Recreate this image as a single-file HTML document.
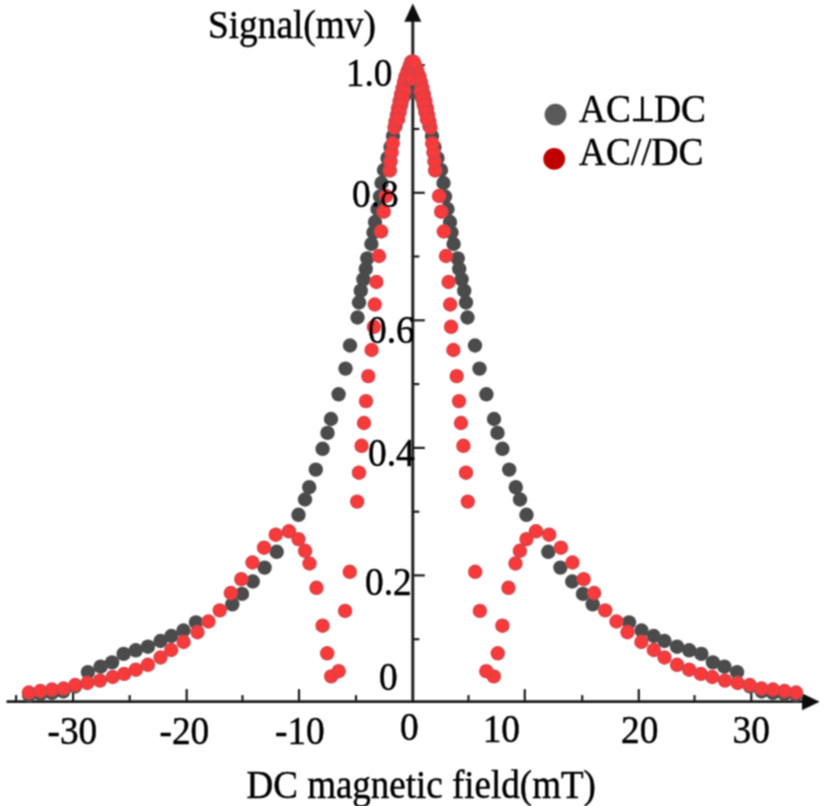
<!DOCTYPE html>
<html><head><meta charset="utf-8"><style>
html,body{margin:0;padding:0;background:#fff;}
body{width:825px;height:806px;overflow:hidden;}
svg{display:block;}
</style></head><body>
<svg width="825" height="806" viewBox="0 0 825 806">
<defs><filter id="sb" x="-2%" y="-2%" width="104%" height="104%"><feConvolveMatrix order="3" kernelMatrix="1 2 1 2 4 2 1 2 1" divisor="16" edgeMode="duplicate"/></filter><radialGradient id="rg" cx="50%" cy="50%" r="50%"><stop offset="0%" stop-color="#ff3838"/><stop offset="50%" stop-color="#f83a3a"/><stop offset="85%" stop-color="#e63e42"/><stop offset="100%" stop-color="#c8404a"/></radialGradient></defs>
<rect width="825" height="806" fill="#fff"/><g filter="url(#sb)">
<line x1="6.5" y1="701.6" x2="806" y2="701.6" stroke="#1e1e1e" stroke-width="2.9"/>
<polygon points="802,693.3 819.6,701.8 802,710.3" fill="#111"/>
<line x1="412.8" y1="18" x2="412.8" y2="701.6" stroke="#1e1e1e" stroke-width="2.9"/>
<polygon points="404.3,21.7 412.8,3.5 421.3,21.7" fill="#111"/>
<line x1="73.1" y1="701.6" x2="73.1" y2="689.1" stroke="#1e1e1e" stroke-width="2.2"/>
<line x1="186.7" y1="701.6" x2="186.7" y2="689.1" stroke="#1e1e1e" stroke-width="2.2"/>
<line x1="299" y1="701.6" x2="299" y2="689.1" stroke="#1e1e1e" stroke-width="2.2"/>
<line x1="524.8" y1="701.6" x2="524.8" y2="689.1" stroke="#1e1e1e" stroke-width="2.2"/>
<line x1="638.8" y1="701.6" x2="638.8" y2="689.1" stroke="#1e1e1e" stroke-width="2.2"/>
<line x1="751.3" y1="701.6" x2="751.3" y2="689.1" stroke="#1e1e1e" stroke-width="2.2"/>
<line x1="16.1" y1="701.6" x2="16.1" y2="695.1" stroke="#1e1e1e" stroke-width="2.2"/>
<line x1="129.7" y1="701.6" x2="129.7" y2="695.1" stroke="#1e1e1e" stroke-width="2.2"/>
<line x1="242.5" y1="701.6" x2="242.5" y2="695.1" stroke="#1e1e1e" stroke-width="2.2"/>
<line x1="356" y1="701.6" x2="356" y2="695.1" stroke="#1e1e1e" stroke-width="2.2"/>
<line x1="468.5" y1="701.6" x2="468.5" y2="695.1" stroke="#1e1e1e" stroke-width="2.2"/>
<line x1="582.2" y1="701.6" x2="582.2" y2="695.1" stroke="#1e1e1e" stroke-width="2.2"/>
<line x1="694.5" y1="701.6" x2="694.5" y2="695.1" stroke="#1e1e1e" stroke-width="2.2"/>
<line x1="412.8" y1="575.4" x2="424.8" y2="575.4" stroke="#1e1e1e" stroke-width="2.2"/>
<line x1="412.8" y1="447.9" x2="424.8" y2="447.9" stroke="#1e1e1e" stroke-width="2.2"/>
<line x1="412.8" y1="320.3" x2="424.8" y2="320.3" stroke="#1e1e1e" stroke-width="2.2"/>
<line x1="412.8" y1="192.8" x2="424.8" y2="192.8" stroke="#1e1e1e" stroke-width="2.2"/>
<line x1="412.8" y1="65.2" x2="424.8" y2="65.2" stroke="#1e1e1e" stroke-width="2.2"/>
<line x1="412.8" y1="639.2" x2="419.3" y2="639.2" stroke="#1e1e1e" stroke-width="2.2"/>
<line x1="412.8" y1="511.7" x2="419.3" y2="511.7" stroke="#1e1e1e" stroke-width="2.2"/>
<line x1="412.8" y1="384.1" x2="419.3" y2="384.1" stroke="#1e1e1e" stroke-width="2.2"/>
<line x1="412.8" y1="256.5" x2="419.3" y2="256.5" stroke="#1e1e1e" stroke-width="2.2"/>
<line x1="412.8" y1="129.0" x2="419.3" y2="129.0" stroke="#1e1e1e" stroke-width="2.2"/>
<g><circle cx="29.0" cy="695.0" r="7.2" fill="#4b4b4b"/>
<circle cx="40.5" cy="694.0" r="7.2" fill="#4b4b4b"/>
<circle cx="52.0" cy="692.8" r="7.2" fill="#4b4b4b"/>
<circle cx="63.3" cy="691.5" r="7.2" fill="#4b4b4b"/>
<circle cx="75.0" cy="686.5" r="7.2" fill="#4b4b4b"/>
<circle cx="87.9" cy="672.1" r="7.2" fill="#4b4b4b"/>
<circle cx="100.6" cy="666.7" r="7.2" fill="#4b4b4b"/>
<circle cx="112.1" cy="662.4" r="7.2" fill="#4b4b4b"/>
<circle cx="123.6" cy="653.9" r="7.2" fill="#4b4b4b"/>
<circle cx="135.8" cy="650.3" r="7.2" fill="#4b4b4b"/>
<circle cx="147.9" cy="646.7" r="7.2" fill="#4b4b4b"/>
<circle cx="160.5" cy="641.0" r="7.2" fill="#4b4b4b"/>
<circle cx="171.3" cy="636.0" r="7.2" fill="#4b4b4b"/>
<circle cx="183.5" cy="630.5" r="7.2" fill="#4b4b4b"/>
<circle cx="196.0" cy="622.4" r="7.2" fill="#4b4b4b"/>
<circle cx="232.3" cy="604.3" r="7.2" fill="#4b4b4b"/>
<circle cx="242.0" cy="593.9" r="7.2" fill="#4b4b4b"/>
<circle cx="252.8" cy="581.5" r="7.2" fill="#4b4b4b"/>
<circle cx="264.6" cy="567.6" r="7.2" fill="#4b4b4b"/>
<circle cx="276.7" cy="551.8" r="7.2" fill="#4b4b4b"/>
<circle cx="298.5" cy="514.8" r="7.2" fill="#4b4b4b"/>
<circle cx="305.0" cy="499.5" r="7.2" fill="#4b4b4b"/>
<circle cx="309.2" cy="487.2" r="7.2" fill="#4b4b4b"/>
<circle cx="315.8" cy="469.6" r="7.2" fill="#4b4b4b"/>
<circle cx="322.6" cy="448.8" r="7.2" fill="#4b4b4b"/>
<circle cx="327.5" cy="432.9" r="7.2" fill="#4b4b4b"/>
<circle cx="331.0" cy="419.0" r="7.2" fill="#4b4b4b"/>
<circle cx="338.6" cy="394.3" r="7.2" fill="#4b4b4b"/>
<circle cx="345.5" cy="368.6" r="7.2" fill="#4b4b4b"/>
<circle cx="350.0" cy="345.5" r="7.2" fill="#4b4b4b"/>
<circle cx="357.5" cy="317.5" r="7.2" fill="#4b4b4b"/>
<circle cx="359.0" cy="302.5" r="7.2" fill="#4b4b4b"/>
<circle cx="360.8" cy="290.7" r="7.2" fill="#4b4b4b"/>
<circle cx="363.4" cy="279.4" r="7.2" fill="#4b4b4b"/>
<circle cx="365.8" cy="268.8" r="7.2" fill="#4b4b4b"/>
<circle cx="367.3" cy="258.4" r="7.2" fill="#4b4b4b"/>
<circle cx="371.4" cy="244.0" r="7.2" fill="#4b4b4b"/>
<circle cx="373.5" cy="232.5" r="7.2" fill="#4b4b4b"/>
<circle cx="375.0" cy="222.0" r="7.2" fill="#4b4b4b"/>
<circle cx="377.5" cy="209.0" r="7.2" fill="#4b4b4b"/>
<circle cx="380.0" cy="196.5" r="7.2" fill="#4b4b4b"/>
<circle cx="381.5" cy="183.0" r="7.2" fill="#4b4b4b"/>
<circle cx="384.0" cy="170.0" r="7.2" fill="#4b4b4b"/>
<circle cx="387.5" cy="158.0" r="7.2" fill="#4b4b4b"/>
<circle cx="390.5" cy="147.0" r="7.2" fill="#4b4b4b"/>
<circle cx="393.0" cy="136.0" r="7.2" fill="#4b4b4b"/>
<circle cx="395.5" cy="126.0" r="7.2" fill="#4b4b4b"/>
<circle cx="397.5" cy="117.0" r="7.2" fill="#4b4b4b"/>
<circle cx="399.5" cy="109.0" r="7.2" fill="#4b4b4b"/>
<circle cx="401.5" cy="102.0" r="7.2" fill="#4b4b4b"/>
<circle cx="404.0" cy="96.0" r="7.2" fill="#4b4b4b"/>
<circle cx="412.5" cy="92.0" r="7.2" fill="#4b4b4b"/>
<circle cx="796.0" cy="695.0" r="7.2" fill="#4b4b4b"/>
<circle cx="784.5" cy="694.0" r="7.2" fill="#4b4b4b"/>
<circle cx="773.0" cy="692.8" r="7.2" fill="#4b4b4b"/>
<circle cx="761.7" cy="691.5" r="7.2" fill="#4b4b4b"/>
<circle cx="750.0" cy="686.5" r="7.2" fill="#4b4b4b"/>
<circle cx="737.1" cy="672.1" r="7.2" fill="#4b4b4b"/>
<circle cx="724.4" cy="666.7" r="7.2" fill="#4b4b4b"/>
<circle cx="712.9" cy="662.4" r="7.2" fill="#4b4b4b"/>
<circle cx="701.4" cy="653.9" r="7.2" fill="#4b4b4b"/>
<circle cx="689.2" cy="650.3" r="7.2" fill="#4b4b4b"/>
<circle cx="677.1" cy="646.7" r="7.2" fill="#4b4b4b"/>
<circle cx="664.5" cy="641.0" r="7.2" fill="#4b4b4b"/>
<circle cx="653.7" cy="636.0" r="7.2" fill="#4b4b4b"/>
<circle cx="641.5" cy="630.5" r="7.2" fill="#4b4b4b"/>
<circle cx="629.0" cy="622.4" r="7.2" fill="#4b4b4b"/>
<circle cx="592.7" cy="604.3" r="7.2" fill="#4b4b4b"/>
<circle cx="583.0" cy="593.9" r="7.2" fill="#4b4b4b"/>
<circle cx="572.2" cy="581.5" r="7.2" fill="#4b4b4b"/>
<circle cx="560.4" cy="567.6" r="7.2" fill="#4b4b4b"/>
<circle cx="548.3" cy="551.8" r="7.2" fill="#4b4b4b"/>
<circle cx="526.5" cy="514.8" r="7.2" fill="#4b4b4b"/>
<circle cx="520.0" cy="499.5" r="7.2" fill="#4b4b4b"/>
<circle cx="515.8" cy="487.2" r="7.2" fill="#4b4b4b"/>
<circle cx="509.2" cy="469.6" r="7.2" fill="#4b4b4b"/>
<circle cx="502.4" cy="448.8" r="7.2" fill="#4b4b4b"/>
<circle cx="497.5" cy="432.9" r="7.2" fill="#4b4b4b"/>
<circle cx="494.0" cy="419.0" r="7.2" fill="#4b4b4b"/>
<circle cx="486.4" cy="394.3" r="7.2" fill="#4b4b4b"/>
<circle cx="479.5" cy="368.6" r="7.2" fill="#4b4b4b"/>
<circle cx="475.0" cy="345.5" r="7.2" fill="#4b4b4b"/>
<circle cx="467.5" cy="317.5" r="7.2" fill="#4b4b4b"/>
<circle cx="466.0" cy="302.5" r="7.2" fill="#4b4b4b"/>
<circle cx="464.2" cy="290.7" r="7.2" fill="#4b4b4b"/>
<circle cx="461.6" cy="279.4" r="7.2" fill="#4b4b4b"/>
<circle cx="459.2" cy="268.8" r="7.2" fill="#4b4b4b"/>
<circle cx="457.7" cy="258.4" r="7.2" fill="#4b4b4b"/>
<circle cx="453.6" cy="244.0" r="7.2" fill="#4b4b4b"/>
<circle cx="451.5" cy="232.5" r="7.2" fill="#4b4b4b"/>
<circle cx="450.0" cy="222.0" r="7.2" fill="#4b4b4b"/>
<circle cx="447.5" cy="209.0" r="7.2" fill="#4b4b4b"/>
<circle cx="445.0" cy="196.5" r="7.2" fill="#4b4b4b"/>
<circle cx="443.5" cy="183.0" r="7.2" fill="#4b4b4b"/>
<circle cx="441.0" cy="170.0" r="7.2" fill="#4b4b4b"/>
<circle cx="437.5" cy="158.0" r="7.2" fill="#4b4b4b"/>
<circle cx="434.5" cy="147.0" r="7.2" fill="#4b4b4b"/>
<circle cx="432.0" cy="136.0" r="7.2" fill="#4b4b4b"/>
<circle cx="429.5" cy="126.0" r="7.2" fill="#4b4b4b"/>
<circle cx="427.5" cy="117.0" r="7.2" fill="#4b4b4b"/>
<circle cx="425.5" cy="109.0" r="7.2" fill="#4b4b4b"/>
<circle cx="423.5" cy="102.0" r="7.2" fill="#4b4b4b"/>
<circle cx="421.0" cy="96.0" r="7.2" fill="#4b4b4b"/></g>
<g><circle cx="28.9" cy="692.5" r="7.2" fill="url(#rg)"/>
<circle cx="40.4" cy="691.0" r="7.2" fill="url(#rg)"/>
<circle cx="52.0" cy="689.5" r="7.2" fill="url(#rg)"/>
<circle cx="63.6" cy="688.5" r="7.2" fill="url(#rg)"/>
<circle cx="75.2" cy="685.0" r="7.2" fill="url(#rg)"/>
<circle cx="87.3" cy="683.0" r="7.2" fill="url(#rg)"/>
<circle cx="100.0" cy="680.6" r="7.2" fill="url(#rg)"/>
<circle cx="112.7" cy="677.0" r="7.2" fill="url(#rg)"/>
<circle cx="124.2" cy="673.9" r="7.2" fill="url(#rg)"/>
<circle cx="135.8" cy="669.7" r="7.2" fill="url(#rg)"/>
<circle cx="147.9" cy="664.8" r="7.2" fill="url(#rg)"/>
<circle cx="160.5" cy="657.5" r="7.2" fill="url(#rg)"/>
<circle cx="171.2" cy="650.0" r="7.2" fill="url(#rg)"/>
<circle cx="183.6" cy="642.0" r="7.2" fill="url(#rg)"/>
<circle cx="197.5" cy="632.2" r="7.2" fill="url(#rg)"/>
<circle cx="208.5" cy="621.5" r="7.2" fill="url(#rg)"/>
<circle cx="219.8" cy="610.4" r="7.2" fill="url(#rg)"/>
<circle cx="230.8" cy="593.0" r="7.2" fill="url(#rg)"/>
<circle cx="241.3" cy="579.2" r="7.2" fill="url(#rg)"/>
<circle cx="252.5" cy="562.5" r="7.2" fill="url(#rg)"/>
<circle cx="264.1" cy="547.7" r="7.2" fill="url(#rg)"/>
<circle cx="275.8" cy="534.7" r="7.2" fill="url(#rg)"/>
<circle cx="289.0" cy="531.3" r="7.2" fill="url(#rg)"/>
<circle cx="298.5" cy="539.1" r="7.2" fill="url(#rg)"/>
<circle cx="305.1" cy="550.8" r="7.2" fill="url(#rg)"/>
<circle cx="309.5" cy="563.5" r="7.2" fill="url(#rg)"/>
<circle cx="316.5" cy="587.8" r="7.2" fill="url(#rg)"/>
<circle cx="322.6" cy="625.7" r="7.2" fill="url(#rg)"/>
<circle cx="327.2" cy="653.3" r="7.2" fill="url(#rg)"/>
<circle cx="331.2" cy="676.4" r="7.2" fill="url(#rg)"/>
<circle cx="338.7" cy="671.2" r="7.2" fill="url(#rg)"/>
<circle cx="345.1" cy="610.9" r="7.2" fill="url(#rg)"/>
<circle cx="349.8" cy="571.8" r="7.2" fill="url(#rg)"/>
<circle cx="357.2" cy="501.6" r="7.2" fill="url(#rg)"/>
<circle cx="359.0" cy="472.7" r="7.2" fill="url(#rg)"/>
<circle cx="361.6" cy="445.8" r="7.2" fill="url(#rg)"/>
<circle cx="364.0" cy="423.0" r="7.2" fill="url(#rg)"/>
<circle cx="366.0" cy="401.1" r="7.2" fill="url(#rg)"/>
<circle cx="368.3" cy="376.1" r="7.2" fill="url(#rg)"/>
<circle cx="371.6" cy="350.0" r="7.2" fill="url(#rg)"/>
<circle cx="373.9" cy="326.8" r="7.2" fill="url(#rg)"/>
<circle cx="374.8" cy="304.5" r="7.2" fill="url(#rg)"/>
<circle cx="376.4" cy="282.0" r="7.2" fill="url(#rg)"/>
<circle cx="379.0" cy="256.0" r="7.2" fill="url(#rg)"/>
<circle cx="381.2" cy="231.5" r="7.2" fill="url(#rg)"/>
<circle cx="383.8" cy="211.7" r="7.2" fill="url(#rg)"/>
<circle cx="386.0" cy="196.0" r="7.2" fill="url(#rg)"/>
<circle cx="389.9" cy="170.5" r="7.2" fill="url(#rg)"/>
<circle cx="390.6" cy="161.5" r="7.2" fill="url(#rg)"/>
<circle cx="391.6" cy="152.5" r="7.2" fill="url(#rg)"/>
<circle cx="392.8" cy="143.5" r="7.2" fill="url(#rg)"/>
<circle cx="394.5" cy="127.5" r="7.2" fill="url(#rg)"/>
<circle cx="395.5" cy="121.5" r="7.2" fill="url(#rg)"/>
<circle cx="396.8" cy="115.0" r="7.2" fill="url(#rg)"/>
<circle cx="398.0" cy="108.0" r="7.2" fill="url(#rg)"/>
<circle cx="399.5" cy="101.0" r="7.2" fill="url(#rg)"/>
<circle cx="401.0" cy="94.5" r="7.2" fill="url(#rg)"/>
<circle cx="402.5" cy="88.0" r="7.2" fill="url(#rg)"/>
<circle cx="404.0" cy="82.0" r="7.2" fill="url(#rg)"/>
<circle cx="405.5" cy="76.5" r="7.2" fill="url(#rg)"/>
<circle cx="407.5" cy="71.0" r="7.2" fill="url(#rg)"/>
<circle cx="409.5" cy="66.0" r="7.2" fill="url(#rg)"/>
<circle cx="411.0" cy="62.0" r="7.2" fill="url(#rg)"/>
<circle cx="412.5" cy="61.5" r="7.2" fill="url(#rg)"/>
<circle cx="412.5" cy="67.0" r="7.2" fill="url(#rg)"/>
<circle cx="412.5" cy="73.0" r="7.2" fill="url(#rg)"/>
<circle cx="412.5" cy="78.5" r="7.2" fill="url(#rg)"/>
<circle cx="404.2" cy="91.0" r="7.2" fill="url(#rg)"/>
<circle cx="402.7" cy="98.0" r="7.2" fill="url(#rg)"/>
<circle cx="401.2" cy="105.0" r="7.2" fill="url(#rg)"/>
<circle cx="399.7" cy="112.0" r="7.2" fill="url(#rg)"/>
<circle cx="398.2" cy="119.0" r="7.2" fill="url(#rg)"/>
<circle cx="796.1" cy="692.5" r="7.2" fill="url(#rg)"/>
<circle cx="784.6" cy="691.0" r="7.2" fill="url(#rg)"/>
<circle cx="773.0" cy="689.5" r="7.2" fill="url(#rg)"/>
<circle cx="761.4" cy="688.5" r="7.2" fill="url(#rg)"/>
<circle cx="749.8" cy="685.0" r="7.2" fill="url(#rg)"/>
<circle cx="737.7" cy="683.0" r="7.2" fill="url(#rg)"/>
<circle cx="725.0" cy="680.6" r="7.2" fill="url(#rg)"/>
<circle cx="712.3" cy="677.0" r="7.2" fill="url(#rg)"/>
<circle cx="700.8" cy="673.9" r="7.2" fill="url(#rg)"/>
<circle cx="689.2" cy="669.7" r="7.2" fill="url(#rg)"/>
<circle cx="677.1" cy="664.8" r="7.2" fill="url(#rg)"/>
<circle cx="664.5" cy="657.5" r="7.2" fill="url(#rg)"/>
<circle cx="653.8" cy="650.0" r="7.2" fill="url(#rg)"/>
<circle cx="641.4" cy="642.0" r="7.2" fill="url(#rg)"/>
<circle cx="627.5" cy="632.2" r="7.2" fill="url(#rg)"/>
<circle cx="616.5" cy="621.5" r="7.2" fill="url(#rg)"/>
<circle cx="605.2" cy="610.4" r="7.2" fill="url(#rg)"/>
<circle cx="594.2" cy="593.0" r="7.2" fill="url(#rg)"/>
<circle cx="583.7" cy="579.2" r="7.2" fill="url(#rg)"/>
<circle cx="572.5" cy="562.5" r="7.2" fill="url(#rg)"/>
<circle cx="560.9" cy="547.7" r="7.2" fill="url(#rg)"/>
<circle cx="549.2" cy="534.7" r="7.2" fill="url(#rg)"/>
<circle cx="536.0" cy="531.3" r="7.2" fill="url(#rg)"/>
<circle cx="526.5" cy="539.1" r="7.2" fill="url(#rg)"/>
<circle cx="519.9" cy="550.8" r="7.2" fill="url(#rg)"/>
<circle cx="515.5" cy="563.5" r="7.2" fill="url(#rg)"/>
<circle cx="508.5" cy="587.8" r="7.2" fill="url(#rg)"/>
<circle cx="502.4" cy="625.7" r="7.2" fill="url(#rg)"/>
<circle cx="497.8" cy="653.3" r="7.2" fill="url(#rg)"/>
<circle cx="493.8" cy="676.4" r="7.2" fill="url(#rg)"/>
<circle cx="486.3" cy="671.2" r="7.2" fill="url(#rg)"/>
<circle cx="479.9" cy="610.9" r="7.2" fill="url(#rg)"/>
<circle cx="475.2" cy="571.8" r="7.2" fill="url(#rg)"/>
<circle cx="467.8" cy="501.6" r="7.2" fill="url(#rg)"/>
<circle cx="466.0" cy="472.7" r="7.2" fill="url(#rg)"/>
<circle cx="463.4" cy="445.8" r="7.2" fill="url(#rg)"/>
<circle cx="461.0" cy="423.0" r="7.2" fill="url(#rg)"/>
<circle cx="459.0" cy="401.1" r="7.2" fill="url(#rg)"/>
<circle cx="456.7" cy="376.1" r="7.2" fill="url(#rg)"/>
<circle cx="453.4" cy="350.0" r="7.2" fill="url(#rg)"/>
<circle cx="451.1" cy="326.8" r="7.2" fill="url(#rg)"/>
<circle cx="450.2" cy="304.5" r="7.2" fill="url(#rg)"/>
<circle cx="448.6" cy="282.0" r="7.2" fill="url(#rg)"/>
<circle cx="446.0" cy="256.0" r="7.2" fill="url(#rg)"/>
<circle cx="443.8" cy="231.5" r="7.2" fill="url(#rg)"/>
<circle cx="441.2" cy="211.7" r="7.2" fill="url(#rg)"/>
<circle cx="439.0" cy="196.0" r="7.2" fill="url(#rg)"/>
<circle cx="435.1" cy="170.5" r="7.2" fill="url(#rg)"/>
<circle cx="434.4" cy="161.5" r="7.2" fill="url(#rg)"/>
<circle cx="433.4" cy="152.5" r="7.2" fill="url(#rg)"/>
<circle cx="432.2" cy="143.5" r="7.2" fill="url(#rg)"/>
<circle cx="430.5" cy="127.5" r="7.2" fill="url(#rg)"/>
<circle cx="429.5" cy="121.5" r="7.2" fill="url(#rg)"/>
<circle cx="428.2" cy="115.0" r="7.2" fill="url(#rg)"/>
<circle cx="427.0" cy="108.0" r="7.2" fill="url(#rg)"/>
<circle cx="425.5" cy="101.0" r="7.2" fill="url(#rg)"/>
<circle cx="424.0" cy="94.5" r="7.2" fill="url(#rg)"/>
<circle cx="422.5" cy="88.0" r="7.2" fill="url(#rg)"/>
<circle cx="421.0" cy="82.0" r="7.2" fill="url(#rg)"/>
<circle cx="419.5" cy="76.5" r="7.2" fill="url(#rg)"/>
<circle cx="417.5" cy="71.0" r="7.2" fill="url(#rg)"/>
<circle cx="415.5" cy="66.0" r="7.2" fill="url(#rg)"/>
<circle cx="414.0" cy="62.0" r="7.2" fill="url(#rg)"/>
<circle cx="420.8" cy="91.0" r="7.2" fill="url(#rg)"/>
<circle cx="422.3" cy="98.0" r="7.2" fill="url(#rg)"/>
<circle cx="423.8" cy="105.0" r="7.2" fill="url(#rg)"/>
<circle cx="425.3" cy="112.0" r="7.2" fill="url(#rg)"/>
<circle cx="426.8" cy="119.0" r="7.2" fill="url(#rg)"/></g>
<text x="0" y="0" transform="translate(208,37.6) scale(0.945,1)" font-size="39.5" font-family="'Liberation Serif', serif" fill="#000" stroke="#000" stroke-width="0.45">Signal(mv)</text>
<text x="0" y="0" transform="translate(246.5,797.8) scale(0.937,1)" font-size="39.5" font-family="'Liberation Serif', serif" fill="#000" stroke="#000" stroke-width="0.45">DC magnetic field(mT)</text>
<text x="0" y="0" transform="translate(345.8,85.8) scale(0.945,1)" font-size="39.5" font-family="'Liberation Serif', serif" fill="#000" stroke="#000" stroke-width="0.45">1.0</text>
<text x="0" y="0" transform="translate(352,206.7) scale(0.945,1)" font-size="39.5" font-family="'Liberation Serif', serif" fill="#000" stroke="#000" stroke-width="0.45">0.8</text>
<text x="0" y="0" transform="translate(368,342.8) scale(0.945,1)" font-size="39.5" font-family="'Liberation Serif', serif" fill="#000" stroke="#000" stroke-width="0.45">0.6</text>
<text x="0" y="0" transform="translate(368,465.5) scale(0.945,1)" font-size="39.5" font-family="'Liberation Serif', serif" fill="#000" stroke="#000" stroke-width="0.45">0.4</text>
<text x="0" y="0" transform="translate(365,594.7) scale(0.945,1)" font-size="39.5" font-family="'Liberation Serif', serif" fill="#000" stroke="#000" stroke-width="0.45">0.2</text>
<text x="0" y="0" transform="translate(379,690) scale(0.945,1)" font-size="39.5" font-family="'Liberation Serif', serif" fill="#000" stroke="#000" stroke-width="0.45">0</text>
<text x="0" y="0" transform="translate(47.5,743.9) scale(0.945,1)" font-size="39.5" font-family="'Liberation Serif', serif" fill="#000" stroke="#000" stroke-width="0.45">-30</text>
<text x="0" y="0" transform="translate(159.5,743.9) scale(0.945,1)" font-size="39.5" font-family="'Liberation Serif', serif" fill="#000" stroke="#000" stroke-width="0.45">-20</text>
<text x="0" y="0" transform="translate(275,744) scale(0.945,1)" font-size="39.5" font-family="'Liberation Serif', serif" fill="#000" stroke="#000" stroke-width="0.45">-10</text>
<text x="0" y="0" transform="translate(400,739.9) scale(0.945,1)" font-size="39.5" font-family="'Liberation Serif', serif" fill="#000" stroke="#000" stroke-width="0.45">0</text>
<text x="0" y="0" transform="translate(482.7,742.2) scale(0.945,1)" font-size="39.5" font-family="'Liberation Serif', serif" fill="#000" stroke="#000" stroke-width="0.45">10</text>
<text x="0" y="0" transform="translate(621,742.7) scale(0.945,1)" font-size="39.5" font-family="'Liberation Serif', serif" fill="#000" stroke="#000" stroke-width="0.45">20</text>
<text x="0" y="0" transform="translate(732.5,742.7) scale(0.945,1)" font-size="39.5" font-family="'Liberation Serif', serif" fill="#000" stroke="#000" stroke-width="0.45">30</text>
<text x="0" y="0" transform="translate(579,121.5) scale(0.945,1)" font-size="39.5" font-family="'Liberation Serif', serif" fill="#000" stroke="#000" stroke-width="0.45">AC</text>
<text x="0" y="0" transform="translate(654,121.5) scale(0.945,1)" font-size="39.5" font-family="'Liberation Serif', serif" fill="#000" stroke="#000" stroke-width="0.45">DC</text>
<text x="0" y="0" transform="translate(579,165) scale(0.945,1)" font-size="39.5" font-family="'Liberation Serif', serif" fill="#000" stroke="#000" stroke-width="0.45">AC//DC</text>
<circle cx="555.5" cy="114.6" r="10.9" fill="#5a5a5a"/>
<circle cx="554.2" cy="158.9" r="10.9" fill="#c00000"/>
<line x1="642.4" y1="96.5" x2="642.4" y2="120" stroke="#000" stroke-width="2.7"/>
<line x1="633" y1="120" x2="652.8" y2="120" stroke="#000" stroke-width="2.6"/>
</g></svg>
</body></html>
